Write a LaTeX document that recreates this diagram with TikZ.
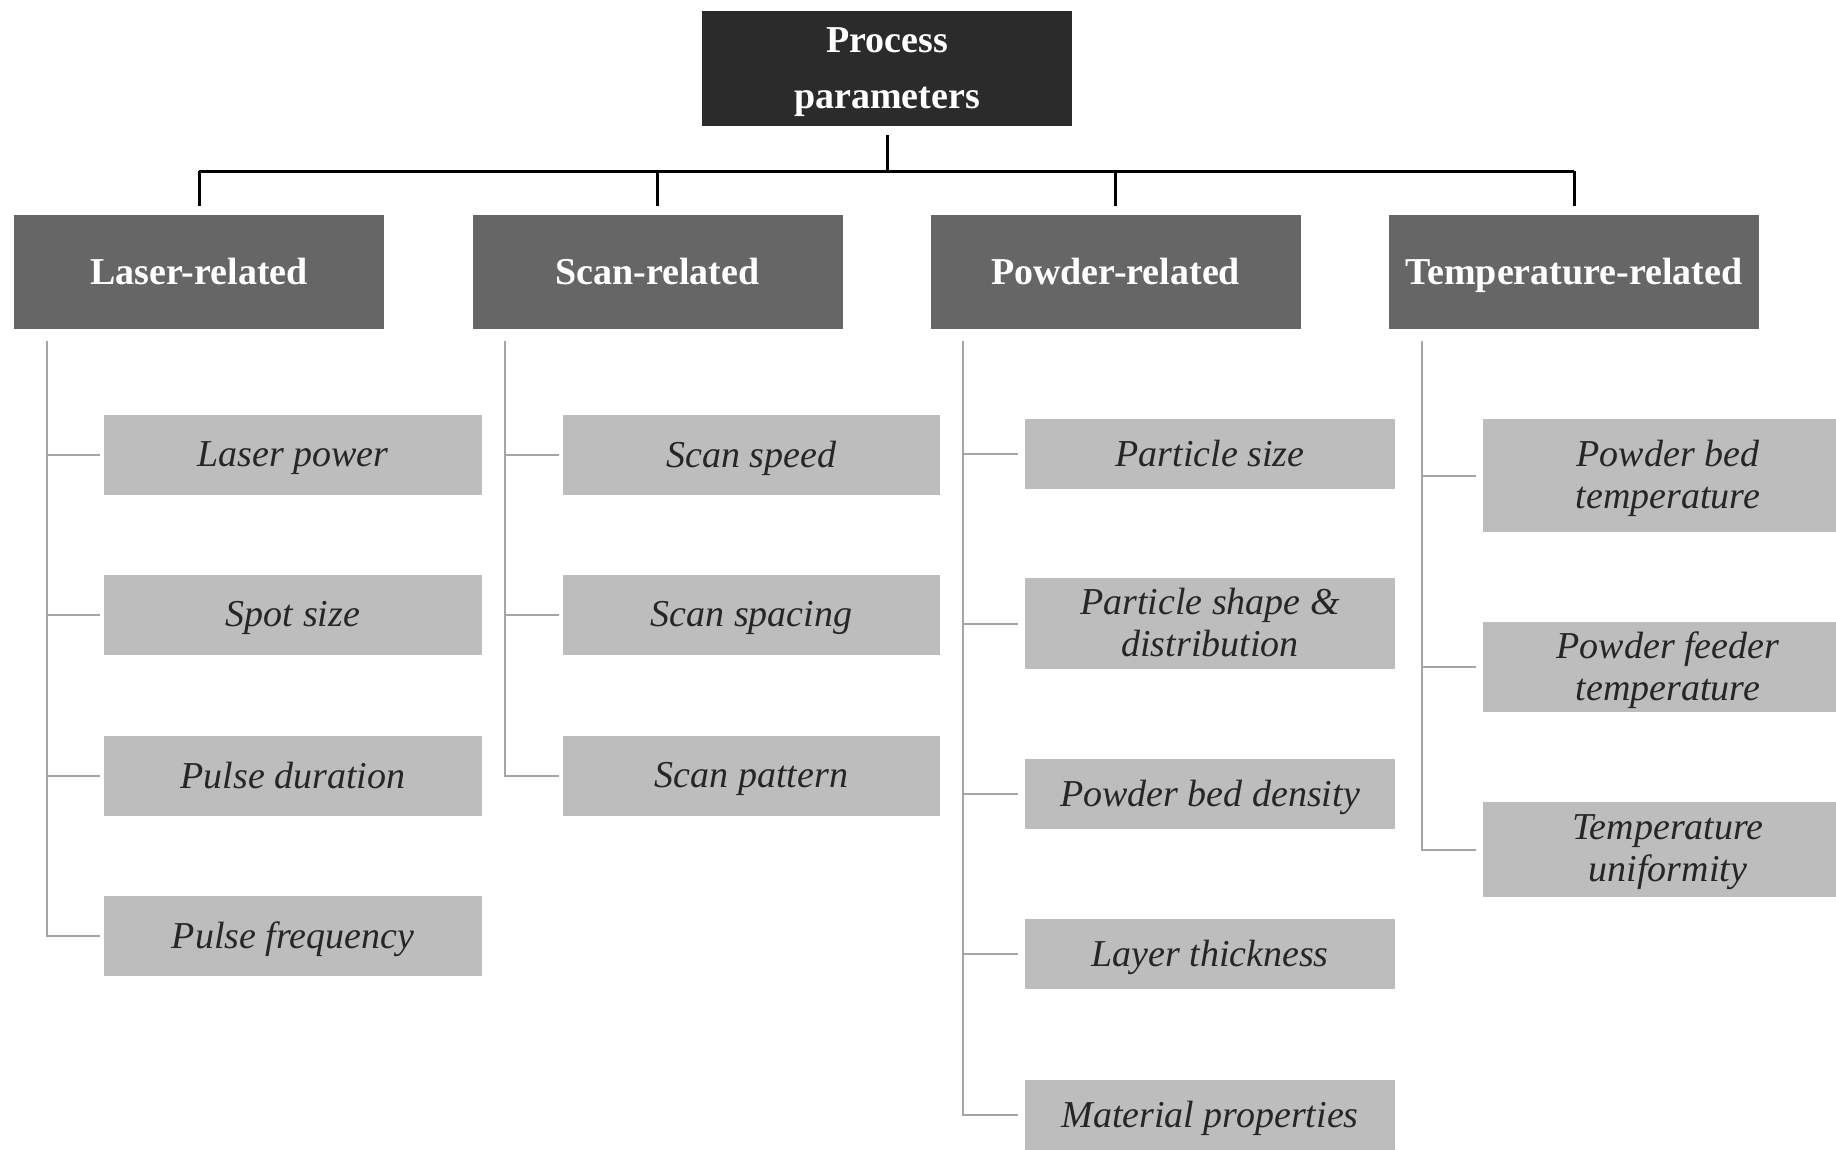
\documentclass[tikz,border=0pt]{standalone}
\usepackage{fontspec}
\setmainfont{Liberation Serif}
\definecolor{coal}{RGB}{43,43,43}
\definecolor{slate}{RGB}{102,102,102}
\definecolor{fog}{RGB}{189,189,189}
\definecolor{rail}{RGB}{165,165,165}
\definecolor{ink}{RGB}{38,38,38}
\tikzset{
  root/.style={fill=coal,text=white,minimum width=370pt,minimum height=115pt,align=center,
    inner sep=0pt,text depth=0pt,font=\fontsize{38}{56}\selectfont\bfseries},
  group/.style={fill=slate,text=white,minimum width=370pt,minimum height=114pt,
    inner sep=0pt,text depth=0.22em,font=\fontsize{38}{46}\selectfont\bfseries},
  item/.style={fill=fog,text=ink,align=center,inner sep=0pt,text depth=0.22em,
    font=\fontsize{38}{42}\selectfont\itshape},
  trunk/.style={draw=black,line width=3pt},
  branch/.style={draw=rail,line width=2pt,line cap=rect},
}
\begin{document}
\begin{tikzpicture}[x=1pt,y=-1pt]
  \useasboundingbox (0,0) rectangle (1836,1149);
  \node[root] (top) at (887,68.5) {Process\\parameters};
  \foreach \n/\x/\t in {laser/199/Laser-related,scan/657.5/Scan-related,powder/1115.5/Powder-related,temp/1574/Temperature-related}{
    \node[group] (\n) at (\x,272) {\t};
    \coordinate (\n0) at ([xshift=33pt]\n.south west);
  }
  \coordinate (bar) at (887,171);
  \draw[trunk,shorten <=9pt] (top) -- (bar);
  \draw[trunk] (laser |- bar) -- (temp |- bar);
  \foreach \n in {laser,scan,powder,temp}
    \draw[trunk,shorten >=9pt] (\n |- bar) -- (\n);
  % laser
  \foreach \t/\y [count=\i] in {Laser power/455,Spot size/615,Pulse duration/776,Pulse frequency/936}{
    \node[item,minimum width=378pt,minimum height=80pt] (laser\i) at (293,\y) {\t};
    \draw[branch,shorten >=5pt] (laser0 |- laser\i) -- (laser\i);
  }
  \draw[branch] ([yshift=-13pt]laser0) -- (laser0 |- laser4);
  % scan
  \foreach \t/\y [count=\i] in {Scan speed/455,Scan spacing/615,Scan pattern/776}{
    \node[item,minimum width=377pt,minimum height=80pt] (scan\i) at (751.5,\y) {\t};
    \draw[branch,shorten >=5pt] (scan0 |- scan\i) -- (scan\i);
  }
  \draw[branch] ([yshift=-13pt]scan0) -- (scan0 |- scan3);
  % powder
  \foreach \t/\y/\h [count=\i] in {Particle size/454/70,{Particle shape \&\\distribution}/623.5/91,Powder bed density/794/70,Layer thickness/954/70,Material properties/1115/70}{
    \node[item,minimum width=370pt,minimum height=\h pt] (powder\i) at (1210,\y) {\t};
    \draw[branch,shorten >=8pt] (powder0 |- powder\i) -- (powder\i);
  }
  \draw[branch] ([yshift=-13pt]powder0) -- (powder0 |- powder5);
  % temperature
  \foreach \t/\y/\h [count=\i] in {{Powder bed\\temperature}/475.5/113,{Powder feeder\\temperature}/667/90,{Temperature\\uniformity}/849.5/95}{
    \node[item,minimum width=370pt,minimum height=\h pt] (temp\i) at (1668,\y) {\t};
    \draw[branch,shorten >=8pt] (temp0 |- temp\i) -- (temp\i);
  }
  \draw[branch] ([yshift=-13pt]temp0) -- (temp0 |- temp3);
\end{tikzpicture}
\end{document}
